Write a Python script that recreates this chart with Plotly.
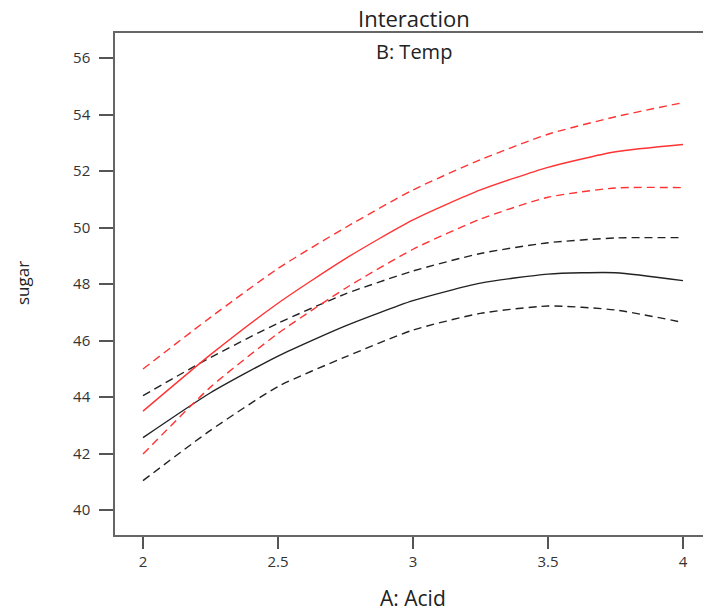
import plotly.graph_objects as go

acid = [2.0, 2.25, 2.5, 2.75, 3.0, 3.25, 3.5, 3.75, 4.0]

red_mid = [43.50, 45.50, 47.32, 48.90, 50.27, 51.33, 52.13, 52.68, 52.94]
red_hi = [44.99, 46.82, 48.55, 50.00, 51.33, 52.40, 53.30, 53.92, 54.42]
red_lo = [41.98, 44.35, 46.25, 47.85, 49.23, 50.30, 51.07, 51.40, 51.41]

blk_mid = [42.56, 44.15, 45.45, 46.52, 47.41, 48.03, 48.35, 48.40, 48.12]
blk_hi = [44.05, 45.40, 46.61, 47.65, 48.46, 49.08, 49.46, 49.63, 49.64]
blk_lo = [41.04, 42.82, 44.37, 45.42, 46.37, 46.96, 47.22, 47.08, 46.64]

y_ticks = [40, 42, 44, 46, 48, 50, 52, 54, 56]
x_ticks = [2, 2.5, 3, 3.5, 4]
x_labels = ["2", "2.5", "3", "3.5", "4"]

RED = "#ff3333"
BLK = "#222222"
DASH = "8px,5px"

fig = go.Figure()

def add(y, color, dash):
    fig.add_trace(go.Scatter(
        x=acid, y=y, mode="lines",
        line=dict(color=color, width=1.4, dash=dash, shape="spline", smoothing=0.6),
        showlegend=False, hoverinfo="skip"))

add(blk_hi, BLK, DASH)
add(blk_mid, BLK, "solid")
add(blk_lo, BLK, DASH)
add(red_hi, RED, DASH)
add(red_mid, RED, "solid")
add(red_lo, RED, DASH)

font_family = "Open Sans, Noto Sans, DejaVu Sans, sans-serif"

fig.update_layout(
    width=703, height=613,
    margin=dict(l=115, r=0, t=33, b=78, autoexpand=False),
    paper_bgcolor="white", plot_bgcolor="white",
    font=dict(family=font_family, color="#333333"),
    xaxis=dict(
        range=[1.8963, 4.0741], tickvals=x_ticks, ticktext=x_labels,
        showgrid=False, zeroline=False, automargin=False,
        showline=True, linecolor="#666666", linewidth=1.5, mirror=True,
        ticks="outside", ticklen=12, tickcolor="#555555", tickwidth=1.5,
        tickfont=dict(size=15, color="#333333"),
    ),
    yaxis=dict(
        range=[39.115, 56.885], tickvals=y_ticks,
        showgrid=False, zeroline=False, automargin=False,
        showline=True, linecolor="#666666", linewidth=1.5,
        ticks="outside", ticklen=14, tickcolor="#555555", tickwidth=1.5,
        tickfont=dict(size=15, color="#333333"),
        ticklabelstandoff=6,
    ),
)

# chart title (as an annotation so it stays fully inside the page)
fig.add_annotation(
    text="Interaction", xref="paper", yref="paper",
    x=(414 - 115) / 588, y=1 + (33 - 18) / 502,
    showarrow=False, xanchor="center", yanchor="middle",
    font=dict(size=22, color="#222222"))

fig.add_annotation(
    text="B: Temp", xref="paper", yref="paper",
    x=(414 - 115) / 588, y=1 - (52 - 33) / 502,
    showarrow=False, xanchor="center", yanchor="middle",
    font=dict(size=20, color="#222222"))

fig.add_annotation(
    text="A: Acid", xref="paper", yref="paper",
    x=(413 - 115) / 588, y=-(598 - 535) / 502,
    showarrow=False, xanchor="center", yanchor="middle",
    font=dict(size=21, color="#222222"))

fig.add_annotation(
    text="sugar", xref="paper", yref="paper",
    x=-(115 - 22) / 588, y=(535 - 283) / 502, textangle=-90,
    showarrow=False, xanchor="center", yanchor="middle",
    font=dict(size=17, color="#222222"))

# remove the default 8px page margin so the figure sits at the window's corner
fig.write_html("out.html", config={"displayModeBar": False},
               post_script="document.body.style.margin='0px';")
